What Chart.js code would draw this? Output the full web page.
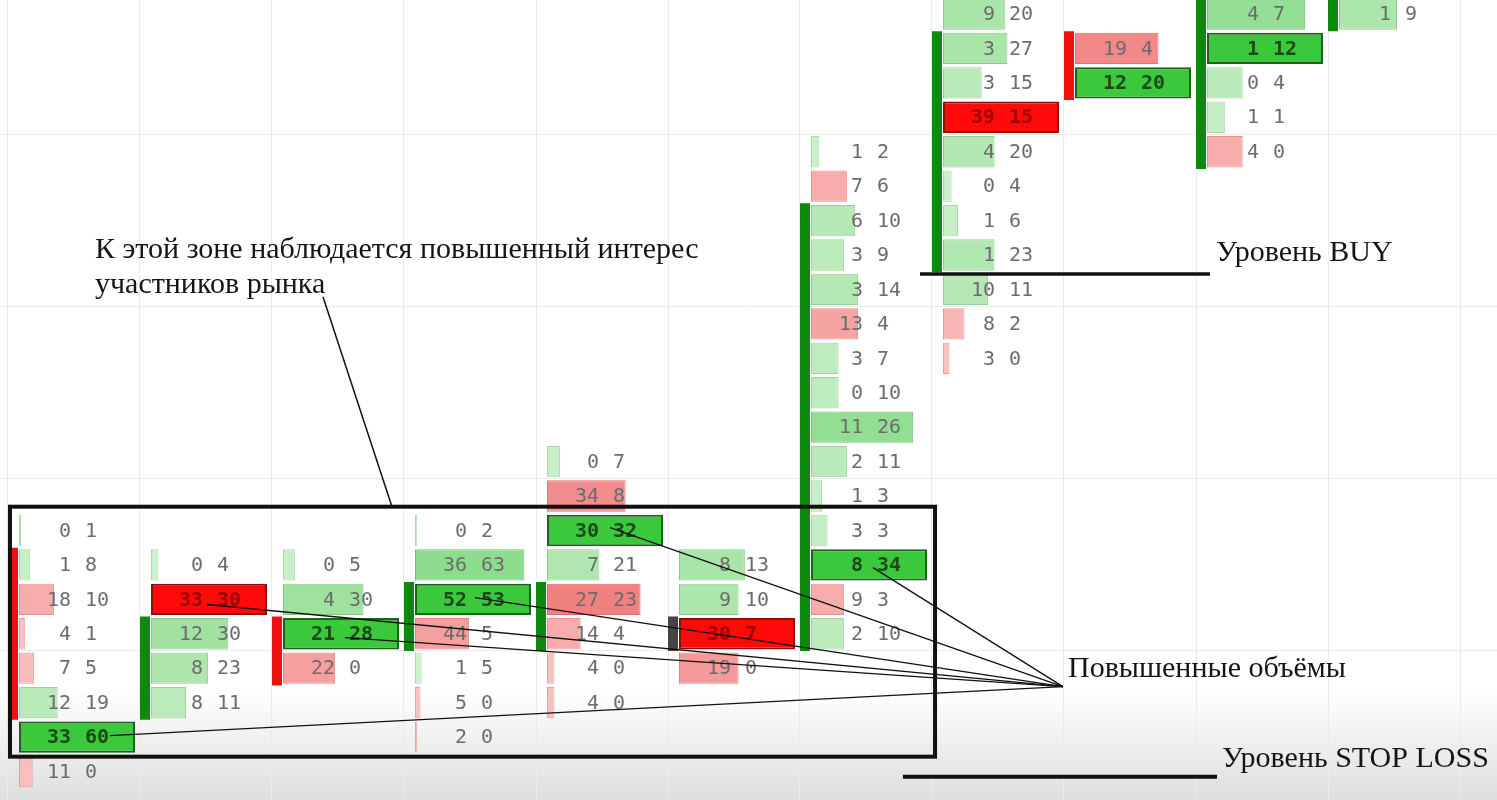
<!DOCTYPE html>
<html>
<head>
<meta charset="utf-8">
<script src="https://cdn.jsdelivr.net/npm/chart.js@4.4.1/dist/chart.umd.min.js"></script>
<style>
  html, body { margin: 0; padding: 0; background: #fff; }
  #wrap { width: 1497px; height: 800px; position: relative; }
</style>
</head>
<body>
<div id="wrap"><canvas id="footprint"></canvas></div>
<script>
// price levels: 0 = lowest row on screen, 22 = highest
// each column lists its rows from its top level downwards
const columnTop = [7, 6, 6, 7, 9, 6, 18, 22, 21, 22, 22];
const bids = [
  [0, 1, 18, 4, 7, 12, 33, 11],
  [0, 33, 12, 8, 8],
  [0, 4, 21, 22],
  [0, 36, 52, 44, 1, 5, 2],
  [0, 34, 30, 7, 27, 14, 4, 4],
  [8, 9, 30, 19],
  [1, 7, 6, 3, 3, 13, 3, 0, 11, 2, 1, 3, 8, 9, 2],
  [9, 3, 3, 39, 4, 0, 1, 1, 10, 8, 3],
  [19, 12],
  [4, 1, 0, 1, 4],
  [1],
];
const asks = [
  [1, 8, 10, 1, 5, 19, 60, 0],
  [4, 30, 30, 23, 11],
  [5, 30, 28, 0],
  [2, 63, 53, 5, 5, 0, 0],
  [7, 8, 32, 21, 23, 4, 0, 0],
  [13, 10, 7, 0],
  [2, 6, 10, 9, 14, 4, 7, 10, 26, 11, 3, 3, 34, 3, 10],
  [20, 27, 15, 15, 20, 4, 6, 23, 11, 2, 0],
  [4, 20],
  [7, 12, 4, 1, 0],
  [9],
];
// candle bodies (open / close level)
const bodyOpen = [6, 2, 4, 4, 4, 4, 4, 15, 21, 18, 22];
const bodyClose = [2, 4, 3, 5, 5, 4, 16, 21, 20, 23, 23];
// biggest row of a column when it is above the screen
const hiddenMaxVolume = [0, 0, 0, 0, 0, 0, 0, 0, 0, 0, 20];

// grid
const priceGrid = [3.5, 8.5, 13.5, 18.5];
const timeGrid = [0, 1, 2, 3, 4, 5, 6, 7, 8, 9, 10, 11];

// annotations (in column / price units)
const notes = [
  { text: "К этой зоне наблюдается повышенный интерес", x: 0.659, y: 14.92 },
  { text: "участников рынка", x: 0.659, y: 13.9 },
  { text: "Уровень BUY", x: 9.152, y: 14.83 },
  { text: "Повышенные объёмы", x: 8.03, y: 2.75 },
  { text: "Уровень STOP LOSS", x: 9.197, y: 0.14 },
];
const levelLines = [
  { x0: 6.909, x1: 9.106, y: 14.45, w: 3.5 },
  { x0: 6.78, x1: 9.159, y: -0.15, w: 4 },
];
const zoneBox = { x0: 0.015, x1: 7.023, y0: 0.43, y1: 7.69 };
const zonePointer = [2.386, 13.785, 2.909, 7.69];
const volumeTarget = [7.992, 2.465];
const volumeSources = [
  [0.773, 1.04], [1.508, 4.85], [2.553, 3.89],
  [3.538, 5.05], [4.561, 7.08], [6.553, 5.92],
];

// layout inside a column (column width = 132px)
const COL_PX = 132;
const BAR_START = 11 / COL_PX;
const BAR_SPAN = 116 / COL_PX;
const MIN_BAR = 2 / COL_PX;

const cells = [];
bids.forEach((col, c) => {
  const vols = col.map((b, i) => b + asks[c][i]);
  const colMax = Math.max(...vols, hiddenMaxVolume[c]);
  col.forEach((b, i) => {
    const a = asks[c][i];
    const vol = b + a;
    const w = Math.max((vol / colMax) * BAR_SPAN, MIN_BAR);
    cells.push({
      y: columnTop[c] - i,
      x: [c + BAR_START, c + BAR_START + w],
      col: c, bid: b, ask: a,
      share: vol / colMax,
      top: vol === colMax,
      up: a >= b,
    });
  });
});

function mix(from, to, t) {
  const v = from.map((f, i) => Math.round(f + (to[i] - f) * t));
  return `rgb(${v[0]},${v[1]},${v[2]})`;
}

function fillFor(cell) {
  if (cell.top) return cell.up ? "#3cc83c" : "#ff0a0a";
  return cell.up
    ? mix([208, 241, 208], [138, 219, 138], cell.share)
    : mix([252, 198, 198], [238, 112, 112], cell.share);
}

function edgeFor(cell) {
  if (cell.top) return cell.up ? "#1f5f1f" : "#8a1010";
  return cell.up
    ? mix([178, 218, 178], [110, 190, 110], cell.share)
    : mix([235, 165, 165], [215, 95, 95], cell.share);
}

const bodyDatasets = bodyOpen.map((o, c) => {
  const cl = bodyClose[c];
  const color = cl > o ? "#0d8a0d" : cl < o ? "#f01010" : "#444444";
  const hi = Math.max(o, cl), lo = Math.min(o, cl);
  return {
    type: "line",
    data: [
      { x: c + 5 / COL_PX, y: hi + 0.5 },
      { x: c + 5 / COL_PX, y: lo - 0.5 },
    ],
    borderColor: color,
    borderWidth: 10,
    borderCapStyle: "butt",
    pointRadius: 0,
    fill: false,
    order: 2,
  };
});

const background = {
  id: "background",
  beforeDraw(chart) {
    const { ctx, width, height } = chart;
    ctx.save();
    ctx.fillStyle = "#ffffff";
    ctx.fillRect(0, 0, width, height);
    const g = ctx.createLinearGradient(0, 690, 0, height);
    g.addColorStop(0, "rgba(222,222,222,0)");
    g.addColorStop(1, "rgba(222,222,222,1)");
    ctx.fillStyle = g;
    ctx.fillRect(0, 690, width, height - 690);
    ctx.restore();
  },
};

const cellLabels = {
  id: "cellLabels",
  afterDatasetsDraw(chart) {
    const { ctx, scales } = chart;
    ctx.save();
    ctx.textBaseline = "middle";
    cells.forEach((cell) => {
      const left = scales.x.getPixelForValue(cell.col);
      const y = scales.y.getPixelForValue(cell.y) + 1;
      if (cell.top) {
        ctx.font = 'bold 20px "DejaVu Sans Mono"';
        ctx.fillStyle = cell.up ? "#1a4a1a" : "#a00000";
      } else {
        ctx.font = '20px "DejaVu Sans Mono"';
        ctx.fillStyle = "#6c6c6c";
      }
      ctx.textAlign = "right";
      ctx.fillText(String(cell.bid), left + 63, y);
      ctx.textAlign = "left";
      ctx.fillText(String(cell.ask), left + 77, y);
    });
    ctx.restore();
  },
};

const annotations = {
  id: "annotations",
  afterDraw(chart) {
    const { ctx, scales } = chart;
    const px = (v) => scales.x.getPixelForValue(v);
    const py = (v) => scales.y.getPixelForValue(v);
    ctx.save();
    ctx.strokeStyle = "#111111";

    // pointer lines to the big volumes
    ctx.lineWidth = 1.3;
    volumeSources.forEach(([sx, sy]) => {
      ctx.beginPath();
      ctx.moveTo(px(sx), py(sy));
      ctx.lineTo(px(volumeTarget[0]), py(volumeTarget[1]));
      ctx.stroke();
    });

    // pointer from the note to the zone
    ctx.lineWidth = 1.5;
    ctx.beginPath();
    ctx.moveTo(px(zonePointer[0]), py(zonePointer[1]));
    ctx.lineTo(px(zonePointer[2]), py(zonePointer[3]));
    ctx.stroke();

    // zone box
    ctx.lineWidth = 4;
    ctx.strokeRect(
      px(zoneBox.x0), py(zoneBox.y1),
      px(zoneBox.x1) - px(zoneBox.x0), py(zoneBox.y0) - py(zoneBox.y1)
    );

    // BUY / STOP LOSS levels
    levelLines.forEach((l) => {
      ctx.lineWidth = l.w;
      ctx.beginPath();
      ctx.moveTo(px(l.x0), py(l.y));
      ctx.lineTo(px(l.x1), py(l.y));
      ctx.stroke();
    });

    ctx.fillStyle = "#151515";
    ctx.font = '30px "Liberation Serif"';
    ctx.textAlign = "left";
    ctx.textBaseline = "alphabetic";
    notes.forEach((n) => ctx.fillText(n.text, px(n.x), py(n.y)));
    ctx.restore();
  },
};

new Chart(document.getElementById("footprint"), {
  type: "bar",
  data: {
    datasets: [
      {
        type: "bar",
        data: cells,
        indexAxis: "y",
        grouped: false,
        categoryPercentage: 1,
        barPercentage: 0.91,
        borderSkipped: false,
        backgroundColor: (ctx) => fillFor(ctx.raw),
        borderColor: (ctx) => edgeFor(ctx.raw),
        borderWidth: (ctx) => (ctx.raw && ctx.raw.top ? 2 : 1),
        order: 1,
      },
      ...bodyDatasets,
    ],
  },
  options: {
    indexAxis: "y",
    responsive: true,
    maintainAspectRatio: false,
    animation: false,
    layout: { padding: 0 },
    plugins: {
      legend: { display: false },
      tooltip: { enabled: false },
    },
    scales: {
      x: {
        type: "linear",
        offset: false,
        min: -8 / COL_PX,
        max: (1497 - 8) / COL_PX,
        afterBuildTicks: (scale) => {
          scale.ticks = timeGrid.map((v) => ({ value: v }));
        },
        ticks: { display: false },
        grid: { color: "#ebebeb", lineWidth: 1, drawTicks: false, offset: false },
        border: { display: false },
      },
      y: {
        type: "linear",
        offset: false,
        min: -0.828,
        max: 22.406,
        afterBuildTicks: (scale) => {
          scale.ticks = priceGrid.map((v) => ({ value: v }));
        },
        ticks: { display: false },
        grid: { color: "#ebebeb", lineWidth: 1, drawTicks: false, offset: false },
        border: { display: false },
      },
    },
  },
  plugins: [background, cellLabels, annotations],
});
</script>
</body>
</html>
